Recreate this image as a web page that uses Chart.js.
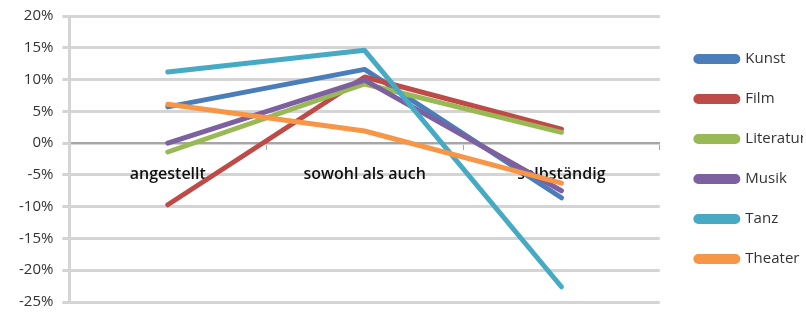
<!DOCTYPE html>
<html>
<head>
<meta charset="utf-8">
<script src="https://cdn.jsdelivr.net/npm/chart.js@4"></script>
<style>
  html, body { margin: 0; padding: 0; background: #fff; overflow: hidden; }
  #wrap { width: 806px; height: 313px; position: relative; }
</style>
</head>
<body>
<div id="wrap"><canvas id="chart"></canvas></div>
<script>
// categories and series (values in %)
const categories = ['angestellt', 'sowohl als auch', 'selbständig'];
const kunst     = [5.7, 11.6, -8.6];
const film      = [-9.7, 10.4, 2.2];
const literatur = [-1.4, 9.3, 1.7];
const musik     = [0.0, 9.9, -7.5];
const tanz      = [11.2, 14.6, -22.6];
const theater   = [6.1, 1.9, -6.3];

const seriesNames = ['Kunst', 'Film', 'Literatur', 'Musik', 'Tanz', 'Theater'];
const seriesData = [kunst, film, literatur, musik, tanz, theater];
const seriesColors = ['#4A7EBB', '#BE4B48', '#98B954', '#7D60A0', '#46AAC5', '#F79646'];

const gridGray = '#D4D4D4';
const font = 'Open Sans';

const datasets = seriesNames.map((name, i) => ({
    label: name,
    data: seriesData[i],
    borderColor: seriesColors[i],
    backgroundColor: seriesColors[i],
    borderWidth: 5,
    pointRadius: 0,
    tension: 0,
    borderCapStyle: 'round',
    borderJoinStyle: 'round',
    order: seriesNames.length - i   // later series on top, like Excel
}));

// let the layout padding alone decide where the plot sits vertically
function noVerticalPadding(scale) {
    scale.paddingTop = 0;
    scale.paddingBottom = 0;
}

const ctx = document.getElementById('chart').getContext('2d');
new Chart(ctx, {
    type: 'line',
    data: { labels: categories, datasets: datasets },
    options: {
        responsive: true,
        maintainAspectRatio: false,
        animation: false,
        layout: { padding: { top: 16, bottom: 11, left: 10, right: 3 } },
        scales: {
            x: {
                position: { y: 0 },
                offset: true,
                afterFit: noVerticalPadding,
                grid: {
                    display: true,
                    drawOnChartArea: false,
                    offset: true,
                    color: '#A6A6A6',
                    tickLength: 6
                },
                border: { color: '#A6A6A6', width: 2 },
                ticks: {
                    color: '#111',
                    font: { family: font, size: 16, weight: '600' },
                    padding: 16
                }
            },
            y: {
                min: -25,
                max: 20,
                afterFit: noVerticalPadding,
                ticks: {
                    stepSize: 5,
                    color: '#333',
                    font: { family: font, size: 15 },
                    padding: 9,
                    callback: v => v + '%'
                },
                grid: { color: gridGray, lineWidth: 3, tickLength: 7 },
                border: { color: gridGray, width: 3 }
            },
            // empty spacer between plot and legend
            gap: {
                type: 'linear',
                position: 'right',
                display: true,
                ticks: { display: false },
                grid: { display: false, drawOnChartArea: false },
                border: { display: false },
                afterFit: s => { s.width = 11; noVerticalPadding(s); }
            }
        },
        plugins: {
            legend: {
                position: 'right',
                labels: {
                    boxWidth: 42,
                    boxHeight: 5,
                    padding: 25,
                    color: '#333',
                    useBorderRadius: true,
                    borderRadius: 2.5,
                    font: { family: font, size: 15 },
                    sort: (a, b) => a.datasetIndex - b.datasetIndex
                }
            },
            tooltip: { enabled: false }
        }
    }
});
</script>
</body>
</html>
